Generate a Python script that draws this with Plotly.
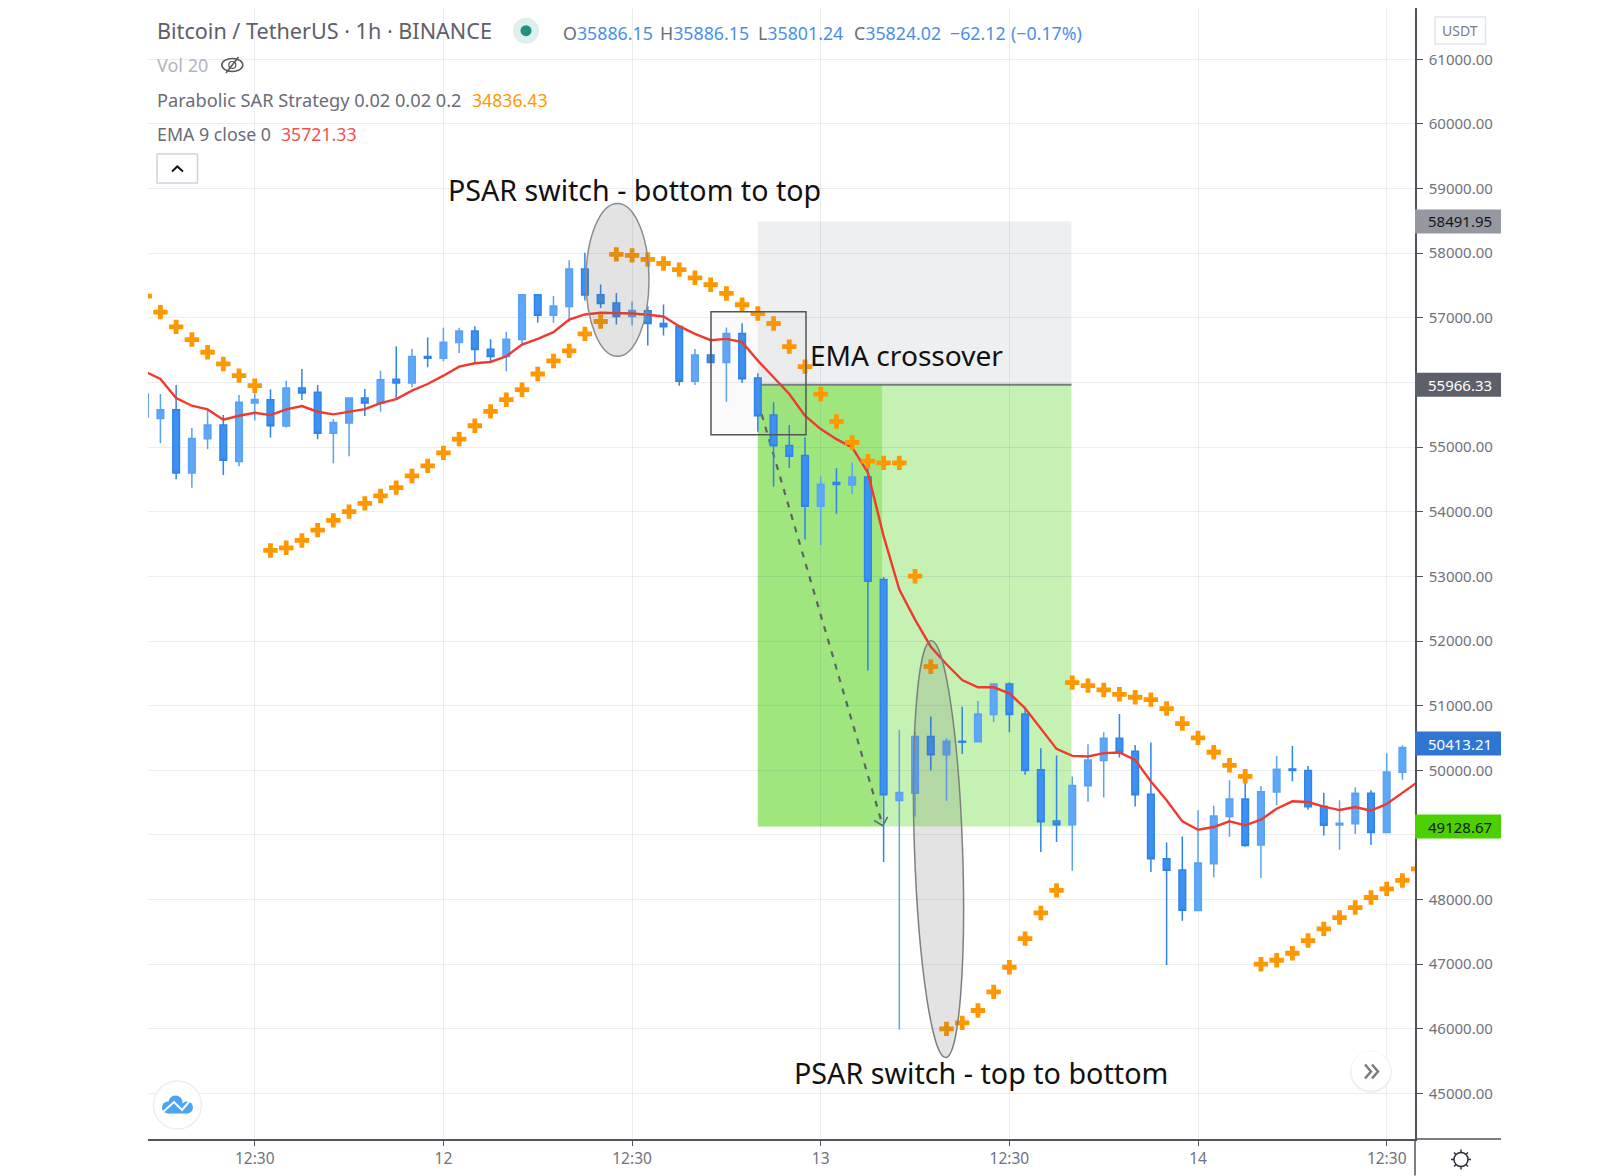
import plotly.graph_objects as go

# hours from the first 12:30 gridline, one per bar (the last one only has indicator values)
hours = list(range(-7, 75))

opens = [55821, 55444, 55578, 54601, 55128, 55340, 54776, 55681, 55733, 55325, 55914, 55847, 55216, 55371,
         55759, 55681, 56049, 55992, 56400, 56374, 56617, 56798, 56514, 56400, 56664, 57357, 57041, 57176,
         57755, 57357, 57228, 57021, 57109, 56912, 56866, 56018, 56426, 56307, 56757, 56069, 55495, 55025,
         54870, 54084, 54451, 54415, 54539, 52951, 49533, 49646, 50522, 50239, 50450, 50440, 50862, 51336,
         50872, 50007, 49214, 49157, 49760, 50151, 50496, 50295, 49631, 48632, 48457, 47831, 48554, 49287,
         49556, 48843, 49664, 50021, 49995, 49442, 49153, 49174, 49644, 49039, 49969]
highs = [55821, 55821, 55961, 55294, 55578, 55495, 55805, 55873, 55893, 56028, 56209, 55961, 55433, 55759,
         55899, 56183, 56560, 56519, 56695, 56845, 56845, 56871, 56669, 56783, 57357, 57357, 57336, 57889,
         58008, 57517, 57383, 57253, 57181, 57207, 56866, 56519, 56674, 56850, 56917, 56142, 55692, 55340,
         55154, 54544, 54673, 54761, 54771, 52990, 50625, 50599, 50831, 50496, 50985, 51073, 51336, 51361,
         50960, 50342, 50228, 49904, 50404, 50589, 50872, 50393, 50429, 48884, 48977, 49380, 49453, 49845,
         49855, 49757, 50222, 50377, 50067, 49654, 49535, 49737, 49690, 50263, 50387]
lows = [55469, 55061, 54502, 54373, 54968, 54570, 54704, 55412, 55149, 55304, 55728, 55123, 54751, 54859,
        55480, 55547, 55743, 55924, 56235, 56328, 56457, 56286, 56312, 56173, 56571, 56922, 56922, 56933,
        57269, 57150, 56897, 56881, 56571, 56726, 55950, 55961, 56307, 55702, 55992, 55237, 54389, 54678,
        53572, 53484, 53970, 54280, 51542, 48580, 45990, 49286, 49997, 49528, 50254, 50440, 50749, 50589,
        49930, 48735, 48889, 48447, 49513, 49580, 50198, 49440, 48426, 46989, 47674, 47831, 48347, 48972,
        48817, 48332, 49458, 49830, 49391, 48993, 48771, 49013, 48843, 49039, 49855]
closes = [55469, 55578, 54601, 55133, 55340, 54797, 55692, 55738, 55330, 55914, 55837, 55216, 55381, 55759,
          55681, 56043, 55992, 56400, 56374, 56623, 56798, 56509, 56400, 56669, 57357, 57041, 57181, 57755,
          57352, 57222, 57021, 57114, 56912, 56860, 56018, 56426, 56307, 56757, 56059, 55485, 55020, 54859,
          54084, 54425, 54420, 54539, 52925, 49621, 49657, 50522, 50239, 50450, 50434, 50872, 51336, 50862,
          49997, 49204, 49157, 49765, 50161, 50496, 50280, 49621, 48632, 48452, 47834, 48564, 49292, 49556,
          48838, 49669, 50015, 49995, 49437, 49148, 49179, 49644, 49039, 49974, 50351]
ema = [56170, 56054, 55759, 55640, 55583, 55423, 55485, 55531, 55495, 55583, 55635, 55547, 55506, 55552,
       55588, 55681, 55743, 55873, 55976, 56105, 56245, 56297, 56317, 56405, 56586, 56674, 56778, 56974,
       57052, 57078, 57078, 57067, 57047, 57021, 56871, 56752, 56654, 56674, 56623, 56338, 56080, 55821,
       55485, 55278, 55123, 54994, 54606, 53623, 52796, 52331, 51912, 51640, 51397, 51284, 51284, 51191,
       50960, 50651, 50331, 50223, 50213, 50265, 50275, 50161, 49827, 49535, 49210, 49081, 49122, 49210,
       49148, 49236, 49406, 49520, 49509, 49437, 49385, 49432, 49375, 49478, 49649, 49825]
psar = [57336, 57088, 56860, 56664, 56467, 56286, 56105, 55950,
        53401, 53442, 53556, 53716, 53866, 54001, 54130, 54244, 54373, 54554, 54709, 54911, 55123, 55330,
        55552, 55733, 55888, 56131, 56333, 56488, 56752, 56943,
        57982, 57966, 57903, 57840, 57745, 57619, 57512, 57377, 57202, 57067, 56912, 56555, 56245, 55821,
        55397, 55071, 54782, 54756, 54756, 53003, 51603,
        46000, 46093, 46284, 46572, 46953, 47396, 47793, 48143,
        51356, 51310, 51243, 51176, 51130, 51094, 50955, 50723, 50501, 50279, 50077, 49907,
        47000, 47061, 47170, 47366, 47547, 47722, 47877, 48032, 48166, 48296, 48476]

x_ticks = [0, 12, 24, 36, 48, 60, 72]
x_labels = ['12:30', '12', '12:30', '13', '12:30', '14', '12:30']
y_ticks = list(range(45000, 62000, 1000))
# 49000 and 56000 sit behind the price labels
y_labels = ['' if v in (49000, 56000) else '{:.2f}'.format(v) for v in y_ticks]

# long/short position levels and the labels on the price axis
stop_price = 58491.95
entry_price = 55966.33
target_price = 49128.67
last_price = 50413.21

# page geometry of the plot area
LEFT, RIGHT, TOP, BOTTOM = 148, 1415, 8, 1139.5
X_RANGE = [-6.79, 73.8]
Y_RANGE = [44296, 61793]
GRID = 'rgba(40,50,110,0.09)'
AXIS = '#50535E'
TICK_TEXT = '#6F727C'
NOTE_FILL = 'rgba(100,100,100,0.18)'
ARROW = '#5F6368'
FONT = 'Noto Sans'


def px(x):
    return (x - LEFT) / (RIGHT - LEFT)


def py(y):
    return (BOTTOM - y) / (BOTTOM - TOP)


def pos(x, y):
    return '{:.5f},{:.5f}'.format(px(x), py(y))


def page_rect(x0, y0, x1, y1, **kw):
    return dict(type='rect', xref='paper', yref='paper', x0=px(x0), y0=py(y0), x1=px(x1), y1=py(y1), **kw)


def page_circle(cx, cy, rx, ry=None, **kw):
    ry = ry or rx
    return dict(type='circle', xref='paper', yref='paper', x0=px(cx - rx), y0=py(cy + ry),
                x1=px(cx + rx), y1=py(cy - ry), **kw)


def page_path(points, **kw):
    path = 'M' + ' L'.join(pos(x, y) for x, y in points)
    return dict(type='path', xref='paper', yref='paper', path=path, **kw)


def data_path(points, **kw):
    # same as page_path but on the data axes, so a lower layer shape stays above the zones
    out = []
    for x, y in points:
        out.append('{:.3f},{:.1f}'.format(X_RANGE[0] + px(x) * (X_RANGE[1] - X_RANGE[0]),
                                          Y_RANGE[0] + py(y) * (Y_RANGE[1] - Y_RANGE[0])))
    return dict(type='path', xref='x', yref='y', path='M' + ' L'.join(out), **kw)


def tilted_ellipse(cx, cy, ax, ay, bx, by):
    # four bezier arcs round the centre, in page pixels
    k = 0.5523
    p = lambda u, v: pos(cx + u * ax + v * bx, cy + u * ay + v * by)
    return ('M' + p(1, 0) + ' C' + p(1, k) + ' ' + p(k, 1) + ' ' + p(0, 1) +
            ' C' + p(-k, 1) + ' ' + p(-1, k) + ' ' + p(-1, 0) +
            ' C' + p(-1, -k) + ' ' + p(-k, -1) + ' ' + p(0, -1) +
            ' C' + p(k, -1) + ' ' + p(1, -k) + ' ' + p(1, 0) + ' Z')


def label(fig, x, y, text, size, color, anchor='left', family=FONT):
    fig.add_annotation(x=px(x), y=py(y), xref='paper', yref='paper', xanchor=anchor, yanchor='middle',
                       text=text, showarrow=False, borderpad=0,
                       font=dict(family=family, size=size, color=color))


fig = go.Figure()

# candles, up bars lighter than down bars
fig.add_trace(go.Candlestick(
    x=hours[:-1], open=opens, high=highs, low=lows, close=closes,
    increasing=dict(line=dict(color='#5AA3F2', width=1.5), fillcolor='#5FA8F7'),
    decreasing=dict(line=dict(color='#2F84EA', width=1.5), fillcolor='#3D91F3'),
    whiskerwidth=0, showlegend=False,
))
fig.add_trace(go.Scatter(x=hours, y=ema, mode='lines', line=dict(color='#F0392F', width=2.4), showlegend=False))
fig.add_trace(go.Scatter(x=hours, y=psar, mode='markers', showlegend=False,
                         marker=dict(symbol='cross', size=12, color='#FF9800', line=dict(width=0))))

shapes = []
# risk and reward zones of the short position
shapes.append(dict(type='rect', xref='x', yref='y', x0=32, x1=51.95, y0=entry_price, y1=stop_price,
                   fillcolor='rgba(120,130,150,0.13)', line=dict(width=0), layer='below'))
shapes.append(dict(type='rect', xref='x', yref='y', x0=32, x1=51.95, y0=target_price, y1=entry_price,
                   fillcolor='rgba(122,225,80,0.44)', line=dict(width=0), layer='below'))
shapes.append(dict(type='rect', xref='x', yref='y', x0=32, x1=39.9, y0=target_price, y1=entry_price,
                   fillcolor='rgba(110,215,60,0.45)', line=dict(width=0), layer='below'))
shapes.append(dict(type='line', xref='x', yref='y', x0=32, x1=51.95, y0=entry_price, y1=entry_price,
                   line=dict(color='#787B86', width=2), layer='below'))
# dashed projection with an open head
shapes.append(data_path([(758, 402), (882.7, 826)], line=dict(color=ARROW, width=2.2, dash='6px,7px'), layer='below'))
shapes.append(data_path([(874, 820.7), (882.7, 826), (887.7, 817.3)], line=dict(color=ARROW, width=1.5), layer='below'))

# drawn notes
shapes.append(page_circle(617.5, 280, 31.5, 76.5, fillcolor=NOTE_FILL, line=dict(color='#8C8C8C', width=1.5)))
shapes.append(dict(type='path', xref='paper', yref='paper',
                   path=tilted_ellipse(938.5, 849.5, -7.2, -208.5, 24, -0.8),
                   fillcolor=NOTE_FILL, line=dict(color='#7F7F7F', width=1.5)))
shapes.append(page_rect(711, 312, 806, 435, fillcolor='rgba(120,120,120,0.03)', line=dict(color='#555555', width=1.5)))

# price axis runs on below the time axis, time axis runs on under the price labels
shapes.append(page_path([(RIGHT, BOTTOM), (RIGHT, 1176)], line=dict(color=AXIS, width=1.5)))
shapes.append(page_path([(RIGHT, BOTTOM), (1501, BOTTOM)], line=dict(color=AXIS, width=1.5)))

# legend icons
shapes.append(page_circle(526, 30.7, 13, fillcolor='#DDF0EC', line=dict(width=0)))
shapes.append(page_circle(526, 30.7, 5.5, fillcolor='#22917F', line=dict(width=0)))
shapes.append(page_circle(232.3, 65, 10.5, 6.5, fillcolor='white', line=dict(color='#555555', width=1.5)))
shapes.append(page_circle(232.3, 65, 3.5, fillcolor='white', line=dict(color='#555555', width=1.2)))
shapes.append(page_path([(238.5, 57), (226, 73)], line=dict(color='#555555', width=1.5)))
shapes.append(page_rect(157, 154, 197.5, 183, fillcolor='white', line=dict(color='#D1D4DC', width=1.5)))
shapes.append(page_path([(172, 171.5), (177.3, 166.5), (183, 171.5)], line=dict(color='#131722', width=2)))
shapes.append(page_rect(1435, 17, 1485.5, 44, fillcolor='white', line=dict(color='#E3E5EC', width=1.5)))

# round buttons
shapes.append(page_circle(1371, 1072.5, 21, fillcolor='#F0F0F2', line=dict(width=0)))
shapes.append(page_circle(1371, 1071.5, 19.5, fillcolor='white', line=dict(width=0)))
shapes.append(page_path([(1365, 1065), (1371, 1072), (1365, 1079)], line=dict(color='#787B86', width=2.5)))
shapes.append(page_path([(1372, 1065), (1378, 1072), (1372, 1079)], line=dict(color='#787B86', width=2.5)))
shapes.append(page_circle(177.5, 1105.5, 24, fillcolor='white', line=dict(color='#EDEDEF', width=1.5)))
for cx, cy, r in [(168, 1108, 6), (175.5, 1103, 7), (187, 1108, 6)]:
    shapes.append(page_circle(cx, cy, r, fillcolor='#4BA3F2', line=dict(width=0)))
shapes.append(page_rect(168, 1106, 187, 1114, fillcolor='#4BA3F2', line=dict(width=0)))
shapes.append(page_path([(163, 1112.5), (174, 1102.5), (182, 1110.5), (189, 1102.5)], line=dict(color='white', width=2)))

# settings sun
shapes.append(page_circle(1461, 1160, 7, fillcolor='white', line=dict(color='#2A2E39', width=1.5)))
for x0, y0, x1, y1 in [(1461, 1150, 1461, 1153), (1461, 1167, 1461, 1170), (1451, 1160, 1454, 1160),
                       (1468, 1160, 1471, 1160), (1454, 1153, 1456, 1155), (1466, 1165, 1468, 1167),
                       (1454, 1167, 1456, 1165), (1466, 1155, 1468, 1153)]:
    shapes.append(page_path([(x0, y0), (x1, y1)], line=dict(color='#2A2E39', width=1.5)))

# price label boxes
price_labels = [(stop_price, '#9598A1', '#131722'), (entry_price, '#5D606B', '#FFFFFF'),
                (last_price, '#2F76D2', '#FFFFFF'), (target_price, '#4CD000', '#131722')]
for value, bg, fg in price_labels:
    shapes.append(dict(type='rect', xref='paper', yref='y', ysizemode='pixel', yanchor=value,
                       x0=1, x1=px(1501), y0=-12, y1=12, fillcolor=bg, line=dict(width=0)))

fig.update_layout(
    width=1600,
    height=1176,
    margin=dict(l=LEFT, r=1600 - RIGHT, t=TOP, b=1176 - BOTTOM),
    paper_bgcolor='white',
    plot_bgcolor='white',
    showlegend=False,
    font=dict(family=FONT),
    boxgap=0.4,
    shapes=shapes,
    xaxis=dict(
        range=X_RANGE,
        tickvals=x_ticks,
        ticktext=x_labels,
        ticks='outside',
        ticklen=5,
        tickcolor=AXIS,
        gridcolor=GRID,
        zeroline=False,
        showline=True,
        linecolor=AXIS,
        linewidth=1.5,
        rangeslider=dict(visible=False),
        tickfont=dict(size=15.5, color=TICK_TEXT),
    ),
    yaxis=dict(
        side='right',
        range=Y_RANGE,
        tickvals=y_ticks,
        ticktext=y_labels,
        ticks='outside',
        ticklen=6,
        ticklabelstandoff=3,
        tickcolor=AXIS,
        gridcolor=GRID,
        zeroline=False,
        showline=True,
        linecolor=AXIS,
        linewidth=1.5,
        tickfont=dict(size=15, color=TICK_TEXT),
    ),
)

# header lines
label(fig, 155.5, 31, 'Bitcoin / TetherUS · 1h · BINANCE', 21.6, '#5D606B')
blue = '<span style="color:#4A8FE7">{}</span>'
for x, letter, value in [(562, 'O', '35886.15'), (659, 'H', '35886.15'), (757, 'L', '35801.24'), (853, 'C', '35824.02')]:
    label(fig, x, 33, letter + blue.format(value), 17.8, '#6A6D78')
label(fig, 949, 33, '−62.12', 17.8, '#4A8FE7')
label(fig, 1010, 33, '(−0.17%)', 17.8, '#4A8FE7')
label(fig, 155.5, 65, 'Vol 20', 18, '#B2B5BE')
label(fig, 155.5, 100, 'Parabolic SAR Strategy 0.02 0.02 0.2', 18.2, '#6A6D78')
label(fig, 471, 100, '34836.43', 17.7, '#FF9800')
label(fig, 155.5, 134, 'EMA 9 close 0', 17.8, '#6A6D78')
label(fig, 280, 134, '35721.33', 17.7, '#EF5350')
label(fig, 1460, 31, 'USDT', 14, '#787B86', anchor='center')

# notes on the chart
label(fig, 447, 190, 'PSAR switch - bottom to top', 28.6, '#111111')
label(fig, 809, 355, 'EMA crossover', 28.1, '#111111')
label(fig, 793, 1073, 'PSAR switch - top to bottom', 28.7, '#111111')

# price labels on the axis
for value, bg, fg in price_labels:
    fig.add_annotation(x=px(1460), xref='paper', y=value, yref='y', xanchor='center', yanchor='middle',
                       text='{:.2f}'.format(value), showarrow=False, borderpad=0,
                       font=dict(family=FONT, size=15, color=fg))

fig.write_html("out.html", config=dict(displayModeBar=False), post_script="document.body.style.margin='0';")
